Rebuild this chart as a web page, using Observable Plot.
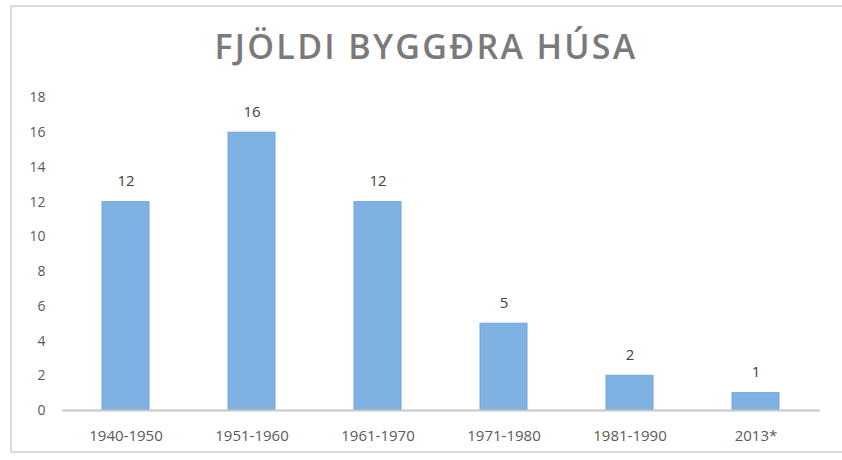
<!DOCTYPE html>
<html>
<head>
<meta charset="utf-8">
<script src="https://cdn.jsdelivr.net/npm/d3@7"></script>
<script src="https://cdn.jsdelivr.net/npm/@observablehq/plot@0.6"></script>
<style>
  html, body { margin: 0; padding: 0; background: #fff; width: 842px; height: 460px; overflow: hidden; }
  #frame { position: absolute; left: 10px; top: 5px; width: 850px; height: 448px; border: 2px solid #d9d9d9; box-sizing: border-box; }
  #title { position: absolute; left: 0; top: 23px; width: 852px; text-align: center; font-family: "Open Sans", sans-serif; font-weight: 600; font-size: 34px; letter-spacing: 2.3px; color: #7a7a7a; }
  #chart { position: absolute; left: 0; top: 80px; }
</style>
</head>
<body>
<div id="frame"></div>
<div id="title">FJÖLDI BYGGÐRA HÚSA</div>
<div id="chart"></div>
<script>
const categories = ["1940-1950", "1951-1960", "1961-1970", "1971-1980", "1981-1990", "2013*"];
const values = [12, 16, 12, 5, 2, 1];
const yTicks = [0, 2, 4, 6, 8, 10, 12, 14, 16, 18];

const data = categories.map((c, i) => ({category: c, value: values[i]}));

const plot = Plot.plot({
  width: 842,
  height: 380,
  marginLeft: 62,
  marginRight: 22,
  marginTop: 17.5,
  marginBottom: 50,
  style: {fontFamily: "'Open Sans', sans-serif", fontSize: "14px", color: "#595959", background: "transparent"},
  x: {domain: categories, paddingInner: 0.625, paddingOuter: 0.3125, label: null, axis: null},
  y: {domain: [0, 18], ticks: yTicks, label: null, tickSize: 0, tickPadding: 17},
  marks: [
    Plot.barY(data, {x: "category", y: "value", fill: "#7fb2e3", stroke: "#6ea6db", strokeWidth: 1}),
    Plot.ruleY([0], {stroke: "#c8c8c8", strokeWidth: 2}),
    Plot.axisX({tickSize: 0, tickPadding: 20, fontSize: 15, label: null}),
    Plot.text(data, {x: "category", y: "value", text: d => String(d.value), dy: -21, fill: "#404040", fontSize: 15})
  ]
});
document.getElementById("chart").appendChild(plot);
</script>
</body>
</html>
